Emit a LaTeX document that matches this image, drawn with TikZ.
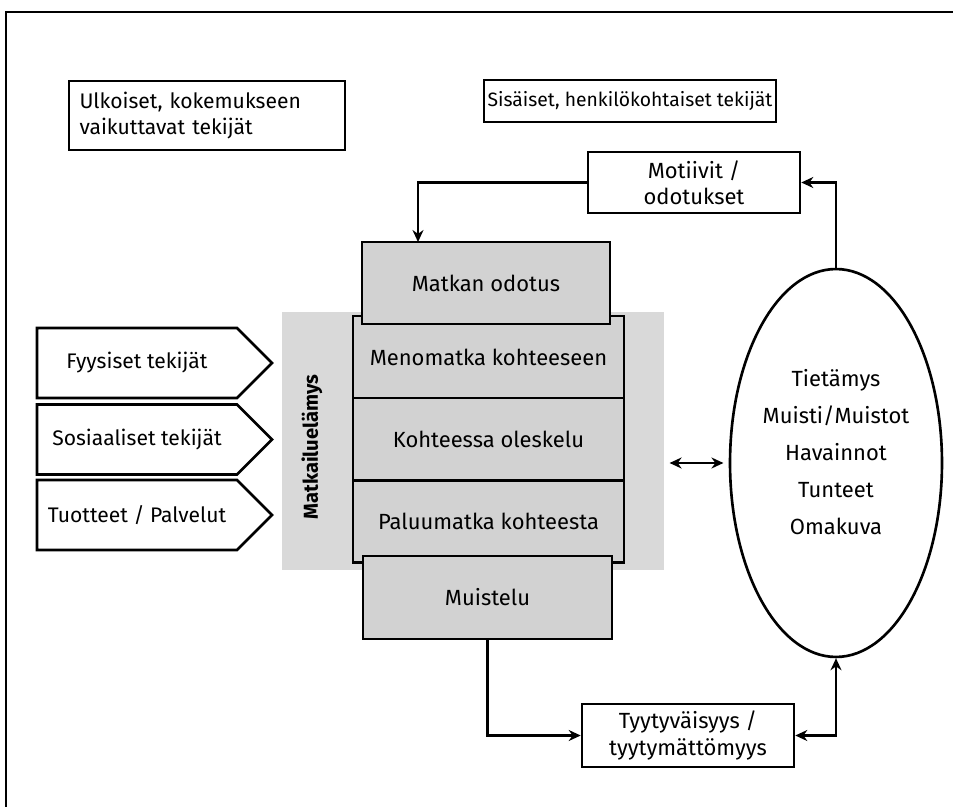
\documentclass[tikz,border=0pt]{standalone}
\usepackage{fontspec}
\setmainfont{Fira Sans}
\usepackage{tikz}
\usetikzlibrary{arrows.meta, positioning, shapes.geometric, shapes.symbols}

\begin{document}
\begin{tikzpicture}[x=0.02cm, y=-0.02cm, every node/.style={font=\fontsize{12.5}{15}\selectfont}, >={Stealth[length=2.4mm, width=2.2mm]},
  box/.style={draw, line width=1.5pt, fill=white, align=center, inner sep=2pt},
  stagebox/.style={draw, line width=1.5pt, fill=gray!35, align=center},
  factor/.style={signal, signal to=east, signal pointer angle=90, draw, line width=1.5pt, fill=white, inner xsep=1pt, minimum width=4.7cm, minimum height=1.4cm, font=\fontsize{12}{15}\selectfont},
  link/.style={line width=1.5pt}]
  \useasboundingbox (0,0) rectangle (953,807);
  \draw[line width=1.6pt] (6,807) -- (6,12) -- (953,12);

  % title boxes
  \node[box, align=left, minimum width=5.52cm, minimum height=1.38cm, text width=5.1cm, font=\fontsize{12}{15}\selectfont] (ext) at (207,115.5) {Ulkoiset, kokemukseen\\vaikuttavat tekijät};
  \node[box, minimum width=4.6cm, minimum height=0.84cm, font=\fontsize{11}{13}\selectfont] (int) at (630,101) {Sisäiset, henkilökohtaiset tekijät};

  % the travel experience
  \node[fill=gray!30, minimum width=7.64cm, minimum height=5.16cm] (exp) at (473,441) {};
  \node[font=\fontsize{11.5}{13}\selectfont\bfseries, rotate=90] (explabel) at (312,447) {Matkailuelämys};
  \node[stagebox, minimum width=5.42cm, minimum height=1.64cm] (meno) at (488.5,357) {Menomatka kohteeseen};
  \node[stagebox, minimum width=5.42cm, minimum height=1.64cm] (olo) at (488.5,439) {Kohteessa oleskelu};
  \node[stagebox, minimum width=5.42cm, minimum height=1.64cm] (paluu) at (488.5,521.5) {Paluumatka kohteesta};
  \node[stagebox, minimum width=4.96cm, minimum height=1.64cm] (odotus) at (486,283) {Matkan odotus};
  \node[stagebox, minimum width=4.98cm, minimum height=1.66cm] (muis) at (487.5,597.5) {Muistelu};

  % external factors
  \node[factor] (fyys) at (137,363) {Fyysiset tekijät};
  \node[factor] (sos) at (137,439.5) {Sosiaaliset tekijät};
  \node[factor] (tuot) at (137,515) {Tuotteet / Palvelut};

  % personal factors
  \node[box, minimum width=4.24cm, minimum height=1.22cm] (mot) at (694,182.5) {Motiivit /\\odotukset};
  \node[box, minimum width=4.24cm, minimum height=1.26cm] (tyy) at (688,735.5) {Tyytyväisyys /\\tyytymättömyys};
  \node[ellipse, draw, line width=1.5pt, minimum width=4.24cm, minimum height=7.76cm] (ell) at (836,463) {};
  \node[align=center, font=\fontsize{12.5}{21}\selectfont] (know) at (836,452) {Tietämys\\Muisti/Muistot\\Havainnot\\Tunteet\\Omakuva};

  \coordinate (odin) at (418,242);
  \draw[->, link] (mot.west) -| (odin);
  \draw[->, link] (ell.north) |- (mot.east);
  \draw[->, link] (muis.south) |- (tyy.west);
  \draw[<->, link] (tyy.east) -| (ell.south);
  \draw[<->, link, shorten <=3pt, shorten >=3pt] (ell.west) -- (ell.west -| exp.east);
\end{tikzpicture}
\end{document}
